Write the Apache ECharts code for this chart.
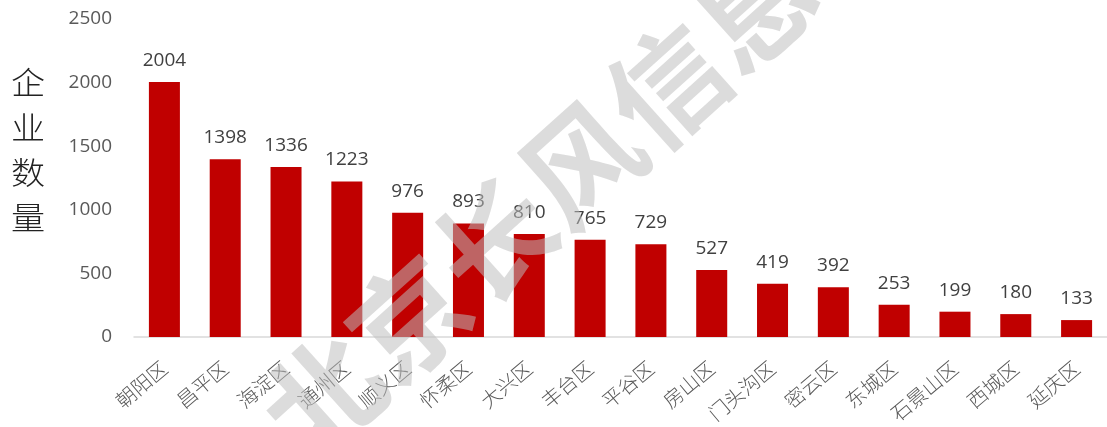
<!DOCTYPE html>
<html>
<head>
<meta charset="utf-8">
<script src="https://cdn.jsdelivr.net/npm/echarts@6/dist/echarts.min.js"></script>
<style>html,body{margin:0;padding:0;background:#fff;}#c{width:1107px;height:427px;}</style>
</head>
<body>
<div id="c"></div>
<script>
const categories = ['朝阳区','昌平区','海淀区','通州区','顺义区','怀柔区','大兴区','丰台区','平谷区','房山区','门头沟区','密云区','东城区','石景山区','西城区','延庆区'];
const values = [2004,1398,1336,1223,976,893,810,765,729,527,419,392,253,199,180,133];
const yTicks = [0,500,1000,1500,2000,2500];
const axisName = '企业数量';
const watermark = '北京长风信息';

const chart = echarts.init(document.getElementById('c'));
chart.setOption({
  animation: false,
  grid: { left: 134, right: 0, top: 19, bottom: 90 },
  xAxis: {
    type: 'category',
    data: categories,
    axisLine: { lineStyle: { color: '#d9d9d9', width: 1.5 } },
    axisTick: { show: false },
    axisLabel: { rotate: 40, fontSize: 20, color: '#595959', margin: 28, interval: 0, fontFamily: 'Noto Sans CJK SC', fontWeight: 300 }
  },
  yAxis: {
    type: 'value',
    min: yTicks[0],
    max: yTicks[yTicks.length - 1],
    interval: 500,
    splitLine: { show: false },
    axisLine: { show: false },
    axisTick: { show: false },
    axisLabel: { fontSize: 19, color: '#595959', margin: 22, fontFamily: 'Open Sans', formatter: v => String(v) }
  },
  series: [{
    type: 'bar',
    data: values,
    barWidth: '51%',
    itemStyle: { color: '#C00000' },
    label: { show: true, position: 'top', distance: 12, fontSize: 19, color: '#404040', fontFamily: 'Open Sans' }
  }],
  graphic: [
    {
      type: 'text', left: 11, top: 60, scaleX: 1.1,
      style: { text: axisName.split('').join('\n'), fontSize: 31, lineHeight: 45, fill: '#222', fontFamily: 'Noto Sans CJK SC', fontWeight: 300 }
    },
    {
      type: 'text', x: 538, y: 202, rotation: 42 * Math.PI / 180, z: 100,
      style: { text: watermark, fontSize: 116, fontWeight: 'bold', fill: 'rgba(189,189,189,0.53)', align: 'center', verticalAlign: 'middle', fontFamily: 'Noto Sans CJK SC' }
    }
  ]
});
</script>
</body>
</html>
